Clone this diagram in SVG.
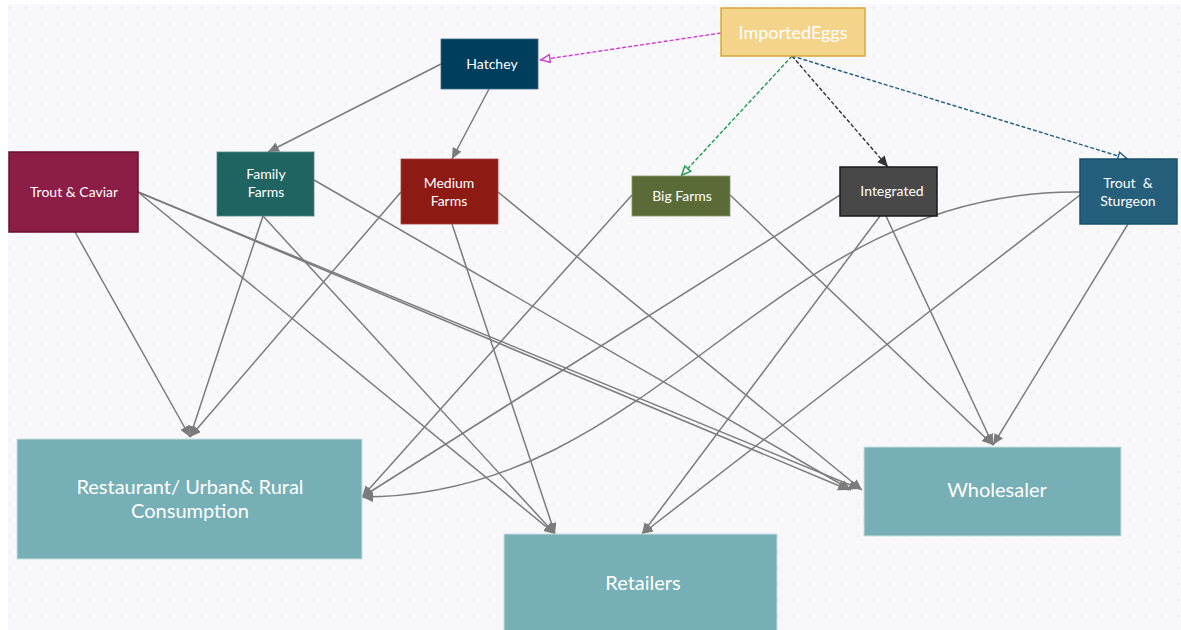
<svg xmlns="http://www.w3.org/2000/svg" width="1181" height="630" viewBox="0 0 1181 630">
<defs>
<pattern id="dots" x="0" y="0" width="16" height="16" patternUnits="userSpaceOnUse">
<rect x="9.3" y="7.3" width="1.4" height="1.4" fill="#dedee4"/>
</pattern>
<marker id="ag" markerUnits="userSpaceOnUse" markerWidth="14" markerHeight="12" refX="11" refY="5" orient="auto">
<path d="M0,0 L11,5 L0,10 Z" fill="#7b7b7b"/>
</marker>
<marker id="am" markerUnits="userSpaceOnUse" markerWidth="14" markerHeight="12" refX="11" refY="5" orient="auto">
<path d="M1,1 L10,5 L1,9 Z" fill="#f8f8fa" stroke="#d23ad2" stroke-width="1.4"/>
</marker>
<marker id="agr" markerUnits="userSpaceOnUse" markerWidth="14" markerHeight="12" refX="11" refY="5" orient="auto">
<path d="M1,1 L10,5 L1,9 Z" fill="#f8f8fa" stroke="#1f9a4a" stroke-width="1.4"/>
</marker>
<marker id="ab" markerUnits="userSpaceOnUse" markerWidth="14" markerHeight="12" refX="11" refY="5" orient="auto">
<path d="M1,1 L10,5 L1,9 Z" fill="#f8f8fa" stroke="#1d5b80" stroke-width="1.4"/>
</marker>
<marker id="ak" markerUnits="userSpaceOnUse" markerWidth="14" markerHeight="12" refX="11" refY="5" orient="auto">
<path d="M0,0 L11,5 L0,10 Z" fill="#333"/>
</marker>
</defs>
<style>
.n text{font-family:Lato,"Open Sans",sans-serif;fill:#fff;text-anchor:middle}
.s{font-size:14px}
.l{font-size:20px}
.c{fill:none;stroke:#7b7b7b;stroke-width:1.5;marker-end:url(#ag)}
.d{fill:none;stroke-width:1.4;stroke-dasharray:4 2}
.bot{fill:#77afb6;stroke:#c8dfe2;stroke-width:1}
</style>
<rect width="1181" height="630" fill="#ffffff"/>
<rect x="8" y="4" width="1173" height="626" fill="#f8f8fa"/>
<rect x="8" y="4" width="1173" height="626" fill="url(#dots)"/>

<g id="connectors">
<path class="d" d="M721,33 L540,60" stroke="#d23ad2" marker-end="url(#am)"/>
<path class="d" d="M792,56 L681,176" stroke="#1f9a4a" marker-end="url(#agr)"/>
<path class="d" d="M792,56 L888,167" stroke="#333" marker-end="url(#ak)"/>
<path class="d" d="M792,56 L1128,159" stroke="#1d5b80" marker-end="url(#ab)"/>

<path class="c" d="M441,64 L268,152"/>
<path class="c" d="M489,89 L452,159"/>

<path class="c" d="M75,232 L190,437"/>
<path class="c" d="M263,216 L190,437"/>
<path class="c" d="M401,192 L190,437"/>

<path class="c" d="M632,195 L362,497"/>
<path class="c" d="M840,195 L362,497"/>
<path class="c" d="M1080,192 C770,188 660,497 362,497"/>

<path class="c" d="M138,192 L555,534"/>
<path class="c" d="M263,216 L555,534"/>
<path class="c" d="M452,224 L555,534"/>

<path class="c" d="M880,216 L642,534"/>
<path class="c" d="M1080,195 L642,534"/>

<path class="c" d="M138,192 L849,490"/>
<path class="c" d="M138,192 L860,489"/>
<path class="c" d="M314,180 L851,490"/>
<path class="c" d="M498,192 L862,490"/>

<path class="c" d="M730,195 L993,445"/>
<path class="c" d="M886,216 L993,445"/>
<path class="c" d="M1128,224 L993,445"/>
</g>

<g id="importedeggs" class="n">
<rect x="721" y="8" width="144" height="48" fill="#f4d38a" stroke="#d6a93c" stroke-width="1.5"/>
<text x="793" y="39" style="font-size:18px">ImportedEggs</text>
</g>
<g id="hatchey" class="n">
<rect x="441" y="39" width="97" height="50" fill="#003e5e" stroke="#3f6b85" stroke-width="0.8"/>
<text class="s" x="492" y="69">Hatchey</text>
</g>
<g id="troutcaviar" class="n">
<rect x="9" y="152" width="129" height="80" fill="#8c1d46" stroke="#6a0f30" stroke-width="1.5"/>
<text class="s" x="74" y="197">Trout &amp; Caviar</text>
</g>
<g id="familyfarms" class="n">
<rect x="217" y="152" width="97" height="64" fill="#1f6461" stroke="#4f8a87" stroke-width="0.8"/>
<text class="s" x="266" y="179">Family</text>
<text class="s" x="266" y="197">Farms</text>
</g>
<g id="mediumfarms" class="n">
<rect x="401" y="159" width="97" height="65" fill="#8d1a13" stroke="#a8403a" stroke-width="0.8"/>
<text class="s" x="449" y="188">Medium</text>
<text class="s" x="449" y="206">Farms</text>
</g>
<g id="bigfarms" class="n">
<rect x="632" y="176" width="98" height="40" fill="#5a6b38" stroke="#8a9868" stroke-width="0.8"/>
<text class="s" x="682" y="201">Big Farms</text>
</g>
<g id="integrated" class="n">
<rect x="840" y="167" width="97" height="49" fill="#484848" stroke="#1a1a1a" stroke-width="1.5"/>
<text class="s" x="892" y="196">Integrated</text>
</g>
<g id="troutsturgeon" class="n">
<rect x="1080" y="159" width="97" height="65" fill="#265f7b" stroke="#18506c" stroke-width="1.5"/>
<text class="s" x="1128" y="188" xml:space="preserve">Trout  &amp;</text>
<text class="s" x="1128" y="206">Sturgeon</text>
</g>
<g id="restaurant" class="n">
<rect class="bot" x="17" y="439" width="345" height="120"/>
<text class="l" x="190" y="494">Restaurant/ Urban&amp; Rural</text>
<text class="l" x="190" y="518">Consumption</text>
</g>
<g id="wholesaler" class="n">
<rect class="bot" x="864" y="447" width="257" height="89"/>
<text class="l" x="997" y="497">Wholesaler</text>
</g>
<g id="retailers" class="n">
<rect class="bot" x="504" y="534" width="273" height="100"/>
<text class="l" x="643" y="590">Retailers</text>
</g>
</svg>
